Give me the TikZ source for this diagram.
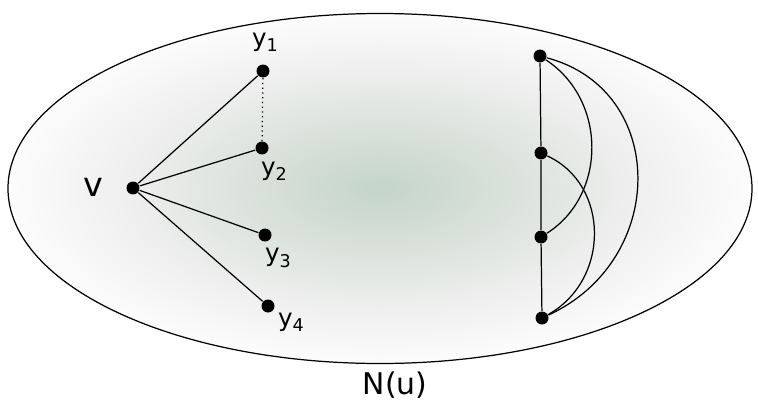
\documentclass[tikz,border=0pt]{standalone}
\usepackage{fontspec}
\setmainfont{DejaVu Sans}
\definecolor{nbin}{RGB}{196,213,201}
\definecolor{nbmid}{RGB}{216,224,218}
\definecolor{nbedge}{RGB}{236,237,236}
\definecolor{nbout}{RGB}{252,252,252}
\pgfdeclareradialshading{nbhd}{\pgfpoint{0bp}{0bp}}{color(0bp)=(nbin); color(8bp)=(nbmid); color(16bp)=(nbedge); color(25bp)=(nbout); color(50bp)=(nbout)}
\newcommand{\ylab}[1]{y{\fontsize{10}{11}\selectfont\raisebox{-3pt}{#1}}}
\begin{document}
\begin{tikzpicture}[x=0.02cm,y=-0.02cm,line width=0.7pt]
\tikzset{dot/.style={circle,fill=black,inner sep=0pt,minimum size=0.26cm},
  lab/.style={inner sep=0pt,font=\fontsize{14}{16}\selectfont}}
\useasboundingbox (0,0) rectangle (758,409);
% The neighbourhood
\path[shading=nbhd,draw=black] (380,188.5) ellipse [x radius=372,y radius=175];
\node[inner sep=0pt,font=\fontsize{17}{20}\selectfont] (nu) at (395,385) {N(u)};
%%%
\node[dot] (v) at (133,188) {};
\node[inner sep=0pt,font=\fontsize{19}{22}\selectfont] (vlab) at (93,187) {v};
\foreach \i/\x/\y in {1/263/71,2/262/148,3/265/235,4/268/306}
  \node[dot] (y\i) at (\x,\y) {};
\foreach \i in {1,...,4}
  \draw (v) -- (y\i);
\draw[dotted] (y1) -- (y2);
\node[lab] (l1) at (265,42) {\ylab{1}};
\node[lab] (l2) at (274,171) {\ylab{2}};
\node[lab] (l3) at (278,258) {\ylab{3}};
\node[lab] (l4) at (291,322) {\ylab{4}};
%%%
\node[dot] (a) at (540,56) {};
\node[dot] (b) at (541,153) {};
\node[dot] (c) at (541,237) {};
\node[dot] (d) at (542,318) {};
\draw (a) -- (b) -- (c) -- (d);
\draw (a) .. controls +(67,44) and +(66,-42) .. (c);
\draw (b) .. controls +(69,32) and +(68,-38) .. (d);
\draw (a) .. controls +(128,34) and +(126,-58) .. (d);
\end{tikzpicture}
\end{document}
